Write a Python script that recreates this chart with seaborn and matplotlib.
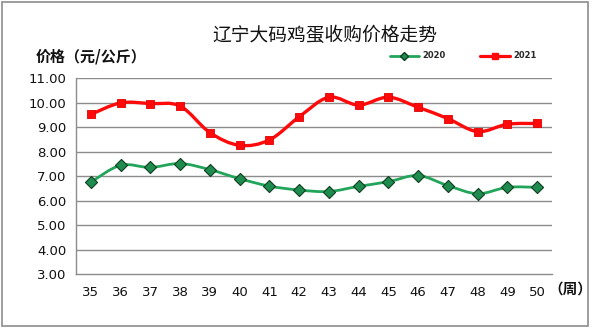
import numpy as np
import pandas as pd
import matplotlib
matplotlib.use("Agg")
import matplotlib.pyplot as plt
from matplotlib.path import Path
from matplotlib.patches import PathPatch, Rectangle
from matplotlib.lines import Line2D
import seaborn as sns

weeks = [35, 36, 37, 38, 39, 40, 41, 42, 43, 44, 45, 46, 47, 48, 49, 50]
price_2020 = [6.76, 7.45, 7.36, 7.52, 7.27, 6.90, 6.60, 6.44, 6.38, 6.59, 6.78, 7.03, 6.62, 6.29, 6.55, 6.55]
price_2021 = [9.52, 9.99, 9.96, 9.86, 8.78, 8.26, 8.48, 9.42, 10.22, 9.90, 10.22, 9.81, 9.35, 8.82, 9.12, 9.15]
y_ticks = [3, 4, 5, 6, 7, 8, 9, 10, 11]

sns.set_theme(style="white")
plt.rcParams["font.family"] = ["Noto Sans CJK SC", "DejaVu Sans"]

df = pd.DataFrame({
    "idx": list(range(len(weeks))) * 2,
    "price": price_2020 + price_2021,
    "year": ["2020"] * len(weeks) + ["2021"] * len(weeks),
})

fig = plt.figure(figsize=(5.92, 3.29), dpi=100)
ax = fig.add_axes([0.1284, 0.1657, 0.804, 0.597])

GREEN_LINE = "#22a55a"
GREEN_FILL = "#1e8c4e"
RED = "#ff0a0a"


def smooth_path(xs, ys, k=1 / 6):
    """Cubic Bezier path through the points (Catmull-Rom style smoothing)."""
    pts = np.column_stack([xs, ys]).astype(float)
    verts = [pts[0]]
    codes = [Path.MOVETO]
    n = len(pts)
    for i in range(n - 1):
        p0 = pts[i - 1] if i > 0 else pts[i]
        p1 = pts[i]
        p2 = pts[i + 1]
        p3 = pts[i + 2] if i + 2 < n else pts[i + 1]
        c1 = p1 + (p2 - p0) * k
        c2 = p2 - (p3 - p1) * k
        verts += [c1, c2, p2]
        codes += [Path.CURVE4] * 3
    return Path(verts, codes)


# horizontal gridlines
for v in y_ticks[1:]:
    ax.axhline(v, color="#8c8c8c", lw=1.0, zorder=1)

x_idx = np.arange(len(weeks))
ax.add_patch(PathPatch(smooth_path(x_idx, price_2020), fill=False,
                       edgecolor=GREEN_LINE, lw=2.0, zorder=3, capstyle="round"))
ax.add_patch(PathPatch(smooth_path(x_idx, price_2021), fill=False,
                       edgecolor=RED, lw=2.4, zorder=3, capstyle="round"))

sns.scatterplot(data=df[df.year == "2020"], x="idx", y="price", marker="D", s=38,
                color=GREEN_FILL, edgecolor="#0f3d20", linewidth=0.8, ax=ax,
                zorder=4, legend=False)
sns.scatterplot(data=df[df.year == "2021"], x="idx", y="price", marker="s", s=30,
                color=RED, edgecolor="#e00000", linewidth=0.6, ax=ax,
                zorder=4, legend=False)

ax.set_xlim(-0.5, len(weeks) - 0.5)
ax.set_ylim(3, 11)
ax.set_xlabel("")
ax.set_ylabel("")

ax.set_yticks(y_ticks)
ax.set_yticklabels([f"{v:.2f}" for v in y_ticks], fontsize=9.5, family="DejaVu Sans",
                   color="#111111")
ax.set_xticks(x_idx)
ax.set_xticklabels([str(w) for w in weeks], fontsize=9.5, family="DejaVu Sans",
                   color="#111111")
ax.set_xticks(np.arange(-0.5, len(weeks)), minor=True)
ax.tick_params(axis="x", which="major", length=0, pad=8)
ax.tick_params(axis="x", which="minor", length=5, width=1, color="#8c8c8c",
               direction="out")
ax.tick_params(axis="y", which="major", length=5, width=1, color="#8c8c8c",
               direction="out", pad=2)

for side in ["top", "right"]:
    ax.spines[side].set_visible(False)
for side in ["left", "bottom"]:
    ax.spines[side].set_color("#8c8c8c")
    ax.spines[side].set_linewidth(1.0)

fig.text(0.549, 0.893, "辽宁大码鸡蛋收购价格走势", ha="center", va="center",
         fontsize=13.5, color="#111111")
fig.text(0.06, 0.828, "价格（元/公斤）", ha="left", va="center", fontsize=10.8,
         fontweight="bold", color="#111111")
fig.text(0.926, 0.122, "（周）", ha="left", va="center", fontsize=10.5,
         fontweight="bold", color="#111111")

handles = [
    Line2D([], [], color=GREEN_LINE, lw=2.0, marker="D", markersize=4.5,
           markerfacecolor=GREEN_FILL, markeredgecolor="#0f3d20"),
    Line2D([], [], color=RED, lw=2.3, marker="s", markersize=4.5,
           markerfacecolor=RED, markeredgecolor=RED),
]
fig.legend(handles, ["2020", "2021"], loc="center", bbox_to_anchor=(0.782, 0.83),
           ncol=2, frameon=False, handlelength=3.5, columnspacing=4.2,
           handletextpad=0.4, prop={"size": 6, "weight": "bold", "family": "DejaVu Sans"})

fig.patches.append(Rectangle((0.004, 0.008), 0.99, 0.985, transform=fig.transFigure,
                             fill=False, edgecolor="#8c8c8c", lw=1.2))

fig.savefig("out.png", dpi=100)
